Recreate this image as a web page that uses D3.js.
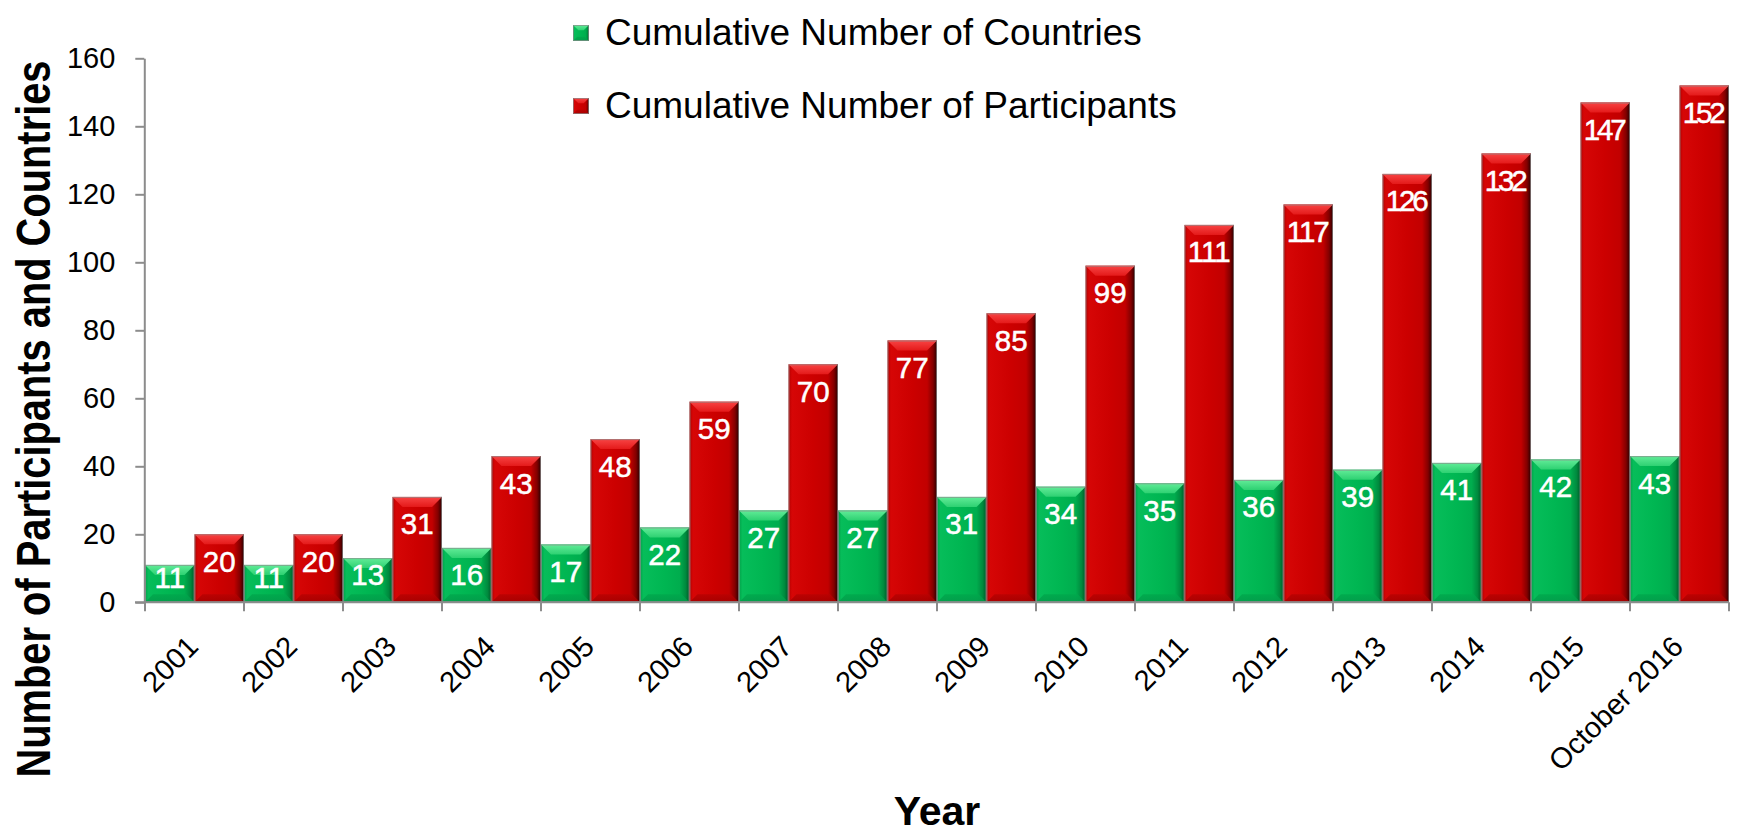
<!DOCTYPE html>
<html>
<head>
<meta charset="utf-8">
<script src="https://cdn.jsdelivr.net/npm/d3@7"></script>
<style>
  html, body { margin: 0; padding: 0; background: #ffffff; }
  svg { display: block; font-family: "Liberation Sans", Arial, sans-serif; }
</style>
</head>
<body>
<script>
// ---- Data ----
const years = ["2001","2002","2003","2004","2005","2006","2007","2008","2009","2010","2011","2012","2013","2014","2015","October 2016"];
const countries = [11,11,13,16,17,22,27,27,31,34,35,36,39,41,42,43];
const participants = [20,20,31,43,48,59,70,77,85,99,111,117,126,132,147,152];
const seriesNames = ["Cumulative Number of Countries","Cumulative Number of Participants"];
const seriesKeys = ["countries","participants"];
const yTicks = [0,20,40,60,80,100,120,140,160];
const yTitle = "Number of Participants and Countries";
const xTitle = "Year";

// ---- Setup ----
const W = 1740, H = 835;
const svg = d3.select("body").append("svg").attr("width", W).attr("height", H);

const x = d3.scaleBand().domain(years).range([145, 1729]).padding(0);
const xs = d3.scaleBand().domain(seriesKeys).range([0, x.bandwidth()]).padding(0);
const y = d3.scaleLinear().domain([0, 160]).range([602.3, 58.3]);

const palettes = {
  countries: {
    body: [[0,"#02a24a"],[0.07,"#06bd5a"],[0.5,"#00b652"],[0.8,"#00ad4e"],[0.92,"#008a3e"],[1,"#005a28"]],
    top: ["#62ec98","#2ed172"],
    bottom: ["#00a84c","#03994a"]
  },
  participants: {
    body: [[0,"#b20000"],[0.07,"#d60606"],[0.5,"#cc0000"],[0.8,"#c20000"],[0.92,"#820000"],[1,"#2a0000"]],
    top: ["#f84444","#e41a1a"],
    bottom: ["#b80202","#a20000"]
  }
};

const defs = svg.append("defs");
seriesKeys.forEach(k => {
  const p = palettes[k];
  const gb = defs.append("linearGradient").attr("id", "body-" + k)
    .attr("x1", 0).attr("y1", 0).attr("x2", 1).attr("y2", 0);
  p.body.forEach(s => gb.append("stop").attr("offset", s[0]).attr("stop-color", s[1]));
  const gt = defs.append("linearGradient").attr("id", "top-" + k)
    .attr("x1", 0).attr("y1", 0).attr("x2", 0).attr("y2", 1);
  gt.append("stop").attr("offset", 0).attr("stop-color", p.top[0]);
  gt.append("stop").attr("offset", 1).attr("stop-color", p.top[1]);
  const gbo = defs.append("linearGradient").attr("id", "bot-" + k)
    .attr("x1", 0).attr("y1", 0).attr("x2", 0).attr("y2", 1);
  gbo.append("stop").attr("offset", 0).attr("stop-color", p.bottom[0]);
  gbo.append("stop").attr("offset", 1).attr("stop-color", p.bottom[1]);
});

function bevelBar(g, k, x0, y0, w, h, bev) {
  const b = Math.min(bev, h / 3, w / 3);
  g.append("rect").attr("x", x0).attr("y", y0).attr("width", w).attr("height", h)
    .attr("fill", `url(#body-${k})`);
  g.append("polygon")
    .attr("points", [[x0, y0],[x0 + w, y0],[x0 + w - b, y0 + b],[x0 + b, y0 + b]].map(p => p.join(",")).join(" "))
    .attr("fill", `url(#top-${k})`);
  g.append("polygon")
    .attr("points", [[x0, y0 + h],[x0 + w, y0 + h],[x0 + w - b*0.8, y0 + h - b*0.8],[x0 + b*0.8, y0 + h - b*0.8]].map(p => p.join(",")).join(" "))
    .attr("fill", `url(#bot-${k})`).attr("opacity", 0.85);
  g.append("rect").attr("x", x0 + 0.5).attr("y", y0 + 0.5).attr("width", w - 1).attr("height", Math.max(0, h - 1))
    .attr("fill", "none").attr("stroke", "#8c8c8c").attr("stroke-opacity", 0.7).attr("stroke-width", 1);
}

// ---- Bars ----
const data = years.map((yr, i) => ({ year: yr, countries: countries[i], participants: participants[i] }));
const barsG = svg.append("g");
data.forEach(d => {
  seriesKeys.forEach(k => {
    const x0 = x(d.year) + xs(k);
    const w = xs.bandwidth();
    const top = y(d[k]);
    const h = y(0) - top;
    bevelBar(barsG, k, x0, top, w, h, 10);
  });
});

// ---- Labels ----
const labG = svg.append("g").attr("fill", "#ffffff").attr("stroke", "#ffffff").attr("stroke-width", 0.5)
  .attr("font-size", 29.5).attr("text-anchor", "middle");
data.forEach(d => {
  seriesKeys.forEach(k => {
    const w = xs.bandwidth();
    const cx = x(d.year) + xs(k) + w / 2;
    const top = y(d[k]);
    const h = y(0) - top;
    const off = Math.max(13, Math.min(27, h - 28));
    const t = labG.append("text").attr("x", cx).attr("y", top + off + 10.5).text(d[k]);
    const len = t.node().getComputedTextLength();
    if (len > w - 6) {
      t.attr("textLength", 43).attr("lengthAdjust", "spacing");
    }
  });
});

// ---- Axes ----
const axisColor = "#8c8c8c";
const yAxis = svg.append("g").attr("transform", `translate(${x.range()[0] - 0.7},0)`)
  .call(d3.axisLeft(y).tickValues(yTicks).tickSize(9).tickPadding(20).tickSizeOuter(0));
yAxis.select(".domain").attr("stroke", axisColor).attr("stroke-width", 2);
yAxis.selectAll(".tick line").attr("stroke", axisColor).attr("stroke-width", 2);
yAxis.selectAll(".tick text").attr("font-size", 29).attr("fill", "#000").attr("font-family", "Liberation Sans, Arial, sans-serif");

const xAxis = svg.append("g").attr("transform", `translate(0,${y(0)})`)
  .call(d3.axisBottom(x).tickSize(0).tickPadding(0).tickSizeOuter(0));
xAxis.select(".domain").attr("stroke", axisColor).attr("stroke-width", 2)
  .attr("d", `M${x.range()[0] - 10},0H${x.range()[1]}`);
xAxis.selectAll(".tick text")
  .attr("font-size", 29).attr("fill", "#000").attr("font-family", "Liberation Sans, Arial, sans-serif")
  .attr("text-anchor", "end").attr("dy", null).attr("y", null)
  .attr("transform", "translate(5.5,46) rotate(-45)");
// boundary ticks between categories
const bounds = years.map(d => x(d)).concat([x.range()[1]]);
xAxis.selectAll(".bound").data(bounds).enter().append("line").attr("class", "bound")
  .attr("x1", d => d).attr("x2", d => d).attr("y1", 0).attr("y2", 9)
  .attr("stroke", axisColor).attr("stroke-width", 2);

// ---- Titles ----
svg.append("text")
  .attr("transform", `translate(50,419) rotate(-90) scale(0.83,1)`)
  .attr("text-anchor", "middle").attr("font-weight", "bold").attr("font-size", 48)
  .attr("fill", "#000").text(yTitle);
svg.append("text")
  .attr("x", (x.range()[0] + x.range()[1]) / 2).attr("y", 825)
  .attr("text-anchor", "middle").attr("font-weight", "bold").attr("font-size", 41)
  .attr("fill", "#000").text(xTitle);

// ---- Legend ----
const legendRows = [45, 118];
const leg = svg.append("g");
seriesKeys.forEach((k, i) => {
  const by = legendRows[i];
  bevelBar(leg, k, 573, by - 20, 16, 16, 6);
  leg.append("text").attr("x", 605).attr("y", by)
    .attr("font-size", 37).attr("fill", "#000").text(seriesNames[i]);
});
</script>
</body>
</html>
